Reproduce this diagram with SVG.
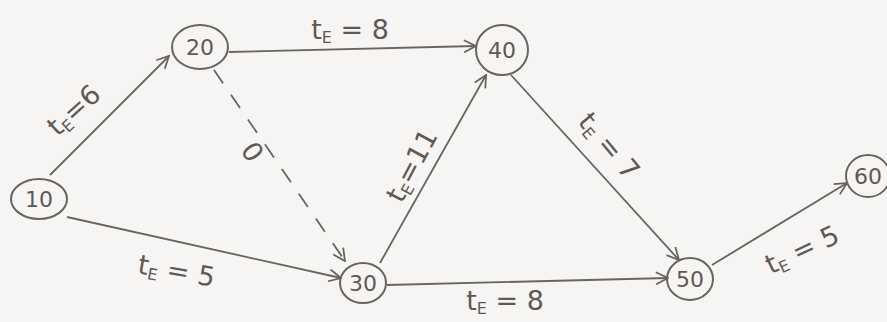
<svg xmlns="http://www.w3.org/2000/svg" width="887" height="322" viewBox="0 0 887 322">
<style>
.node{fill:none;stroke:#6a645f;stroke-width:2}
.nl{font-family:"DejaVu Sans",sans-serif;font-size:22px;fill:#5f5954;text-anchor:middle}
.edge{fill:none;stroke:#6a645f;stroke-width:1.8}
.dash{stroke-dasharray:16 14}
.lbl{font-family:"DejaVu Sans",sans-serif;font-size:27px;fill:#5f5954;text-anchor:middle}
.sub{font-size:16px}
</style>
<defs>
<marker id="arr" viewBox="0 0 14 14" refX="13" refY="7" markerWidth="14" markerHeight="14" markerUnits="userSpaceOnUse" orient="auto">
<path d="M1,1 L13,7 L1,13" fill="none" stroke="#6a645f" stroke-width="1.8"/>
</marker>
</defs>
<rect width="887" height="322" fill="#f6f5f3"/>
<g id="connectors">
<line class="edge" x1="50" y1="175" x2="169" y2="56" marker-end="url(#arr)"/>
<line class="edge" x1="67" y1="217" x2="341" y2="278" marker-end="url(#arr)"/>
<line class="edge" x1="229" y1="52" x2="476" y2="46" marker-end="url(#arr)"/>
<line class="edge dash" x1="214" y1="70" x2="345" y2="261" marker-end="url(#arr)"/>
<line class="edge" x1="380" y1="263" x2="486" y2="75" marker-end="url(#arr)"/>
<line class="edge" x1="511" y1="75" x2="679" y2="260" marker-end="url(#arr)"/>
<line class="edge" x1="387" y1="285" x2="668" y2="278" marker-end="url(#arr)"/>
<line class="edge" x1="712" y1="265" x2="847" y2="183" marker-end="url(#arr)"/>
</g>
<g id="labels">
<text class="lbl" transform="translate(80,117) rotate(-42)">t<tspan class="sub" dy="4">E</tspan><tspan dy="-4">=6</tspan></text>
<text class="lbl" transform="translate(350,39)">t<tspan class="sub" dy="4">E</tspan><tspan dy="-4"> = 8</tspan></text>
<text class="lbl" transform="translate(252,152) rotate(56)" dy="9">0</text>
<text class="lbl" transform="translate(420,170) rotate(-62)">t<tspan class="sub" dy="4">E</tspan><tspan dy="-4">=11</tspan></text>
<text class="lbl" transform="translate(602,152) rotate(50)">t<tspan class="sub" dy="4">E</tspan><tspan dy="-4"> = 7</tspan></text>
<text class="lbl" transform="translate(175,280) rotate(10)">t<tspan class="sub" dy="4">E</tspan><tspan dy="-4"> = 5</tspan></text>
<text class="lbl" transform="translate(505,310)">t<tspan class="sub" dy="4">E</tspan><tspan dy="-4"> = 8</tspan></text>
<text class="lbl" transform="translate(806,258) rotate(-25)">t<tspan class="sub" dy="4">E</tspan><tspan dy="-4"> = 5</tspan></text>
</g>
<g id="n10"><ellipse class="node" cx="39" cy="199" rx="28" ry="20"/><text class="nl" x="39" y="207">10</text></g>
<g id="n20"><ellipse class="node" cx="200" cy="47" rx="28" ry="22"/><text class="nl" x="200" y="55">20</text></g>
<g id="n30"><ellipse class="node" cx="363" cy="283" rx="23" ry="20"/><text class="nl" x="363" y="291">30</text></g>
<g id="n40"><ellipse class="node" cx="502" cy="50" rx="26" ry="25"/><text class="nl" x="502" y="58">40</text></g>
<g id="n50"><ellipse class="node" cx="690" cy="279" rx="23" ry="21"/><text class="nl" x="690" y="287">50</text></g>
<g id="n60"><ellipse class="node" cx="868" cy="176" rx="22" ry="21"/><text class="nl" x="868" y="184">60</text></g>
</svg>
